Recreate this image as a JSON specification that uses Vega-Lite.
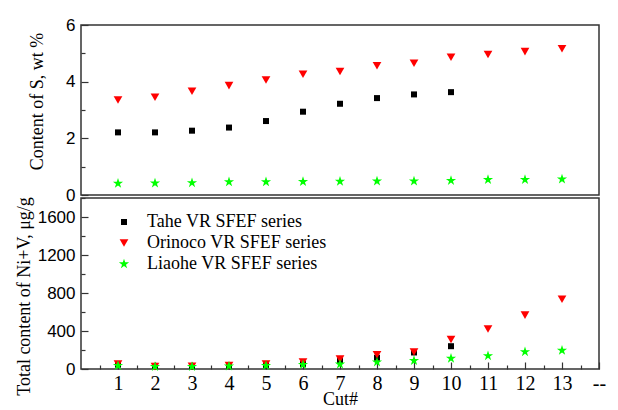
{
  "$schema": "https://vega.github.io/schema/vega-lite/v6.json",
  "padding": {"left": 14, "top": 15, "right": 5, "bottom": 0},
  "background": "white",
  "config": {
    "view": {"stroke": "#333333", "strokeWidth": 1.5},
    "axis": {"grid": false, "domain": false, "tickColor": "#333333", "tickWidth": 1.2, "labelColor": "black", "titleColor": "black", "titleFontWeight": "normal", "titleFont": "Liberation Serif", "titleFontSize": 18},
    "legend": {"labelFont": "Liberation Serif", "labelFontSize": 18, "labelColor": "black", "labelLimit": 0}
  },
  "datasets": {
    "d": [
      {"cut": 1, "series": "Tahe VR SFEF series", "s": 2.21, "nv": 45},
      {"cut": 2, "series": "Tahe VR SFEF series", "s": 2.21, "nv": 32},
      {"cut": 3, "series": "Tahe VR SFEF series", "s": 2.27, "nv": 28},
      {"cut": 4, "series": "Tahe VR SFEF series", "s": 2.38, "nv": 30},
      {"cut": 5, "series": "Tahe VR SFEF series", "s": 2.61, "nv": 38},
      {"cut": 6, "series": "Tahe VR SFEF series", "s": 2.94, "nv": 52},
      {"cut": 7, "series": "Tahe VR SFEF series", "s": 3.22, "nv": 87},
      {"cut": 8, "series": "Tahe VR SFEF series", "s": 3.42, "nv": 118},
      {"cut": 9, "series": "Tahe VR SFEF series", "s": 3.55, "nv": 174},
      {"cut": 10, "series": "Tahe VR SFEF series", "s": 3.63, "nv": 240},
      {"cut": 1, "series": "Orinoco VR SFEF series", "s": 3.35, "nv": 52},
      {"cut": 2, "series": "Orinoco VR SFEF series", "s": 3.45, "nv": 25},
      {"cut": 3, "series": "Orinoco VR SFEF series", "s": 3.66, "nv": 30},
      {"cut": 4, "series": "Orinoco VR SFEF series", "s": 3.86, "nv": 38},
      {"cut": 5, "series": "Orinoco VR SFEF series", "s": 4.06, "nv": 52},
      {"cut": 6, "series": "Orinoco VR SFEF series", "s": 4.26, "nv": 73},
      {"cut": 7, "series": "Orinoco VR SFEF series", "s": 4.36, "nv": 104},
      {"cut": 8, "series": "Orinoco VR SFEF series", "s": 4.56, "nv": 150},
      {"cut": 9, "series": "Orinoco VR SFEF series", "s": 4.65, "nv": 178},
      {"cut": 10, "series": "Orinoco VR SFEF series", "s": 4.86, "nv": 310},
      {"cut": 11, "series": "Orinoco VR SFEF series", "s": 4.96, "nv": 421},
      {"cut": 12, "series": "Orinoco VR SFEF series", "s": 5.06, "nv": 567},
      {"cut": 13, "series": "Orinoco VR SFEF series", "s": 5.16, "nv": 734},
      {"cut": 1, "series": "Liaohe VR SFEF series", "s": 0.41, "nv": 35},
      {"cut": 2, "series": "Liaohe VR SFEF series", "s": 0.42, "nv": 25},
      {"cut": 3, "series": "Liaohe VR SFEF series", "s": 0.43, "nv": 25},
      {"cut": 4, "series": "Liaohe VR SFEF series", "s": 0.46, "nv": 30},
      {"cut": 5, "series": "Liaohe VR SFEF series", "s": 0.46, "nv": 35},
      {"cut": 6, "series": "Liaohe VR SFEF series", "s": 0.47, "nv": 45},
      {"cut": 7, "series": "Liaohe VR SFEF series", "s": 0.48, "nv": 50},
      {"cut": 8, "series": "Liaohe VR SFEF series", "s": 0.49, "nv": 73},
      {"cut": 9, "series": "Liaohe VR SFEF series", "s": 0.49, "nv": 87},
      {"cut": 10, "series": "Liaohe VR SFEF series", "s": 0.51, "nv": 111},
      {"cut": 11, "series": "Liaohe VR SFEF series", "s": 0.54, "nv": 139},
      {"cut": 12, "series": "Liaohe VR SFEF series", "s": 0.54, "nv": 181},
      {"cut": 13, "series": "Liaohe VR SFEF series", "s": 0.56, "nv": 195}
    ]
  },
  "data": {"name": "d"},
  "spacing": 3,
  "bounds": "flush",
  "resolve": {"legend": {"color": "independent", "shape": "independent", "size": "independent"}},
  "vconcat": [
    {
      "width": 518,
      "height": 170,
      "resolve": {"axis": {"y": "independent"}},
      "encoding": {
        "x": {"field": "cut", "type": "quantitative", "scale": {"domain": [0, 14], "nice": false}, "axis": null},
        "color": {"field": "series", "type": "nominal", "scale": {"domain": ["Tahe VR SFEF series", "Orinoco VR SFEF series", "Liaohe VR SFEF series"], "range": ["#000000", "#ff0000", "#00ff00"]}, "legend": null},
        "shape": {"field": "series", "type": "nominal", "scale": {"domain": ["Tahe VR SFEF series", "Orinoco VR SFEF series", "Liaohe VR SFEF series"], "range": ["square", "triangle-down", "M0,-1L0.225,-0.309L0.951,-0.309L0.363,0.118L0.588,0.809L0,0.382L-0.588,0.809L-0.363,0.118L-0.951,-0.309L-0.225,-0.309Z"]}, "legend": null},
        "size": {"field": "series", "type": "nominal", "scale": {"domain": ["Tahe VR SFEF series", "Orinoco VR SFEF series", "Liaohe VR SFEF series"], "range": [36, 115, 150]}, "legend": null}
      },
      "layer": [
        {
          "mark": {"type": "point", "filled": true, "opacity": 1, "strokeWidth": 0},
          "encoding": {
            "y": {"field": "s", "type": "quantitative", "scale": {"domain": [0, 6], "nice": false},
              "axis": {"orient": "left", "title": "Content of S, wt %", "values": [0, 2, 4, 6], "tickSize": -7,
                "labelPadding": 13, "labelFont": "Liberation Sans", "labelFontSize": 17, "titlePadding": 19, "titleY": 76}}
          }
        },
        {
          "mark": {"type": "point", "filled": true, "opacity": 0},
          "encoding": {
            "y": {"field": "s", "type": "quantitative",
              "axis": {"orient": "left", "title": null, "values": [1, 3, 5], "tickSize": -4, "labels": false}}
          }
        }
      ]
    },
    {
      "width": 518,
      "height": 171,
      "resolve": {"axis": {"y": "independent", "x": "independent"}},
      "encoding": {
        "color": {"field": "series", "type": "nominal", "scale": {"domain": ["Tahe VR SFEF series", "Orinoco VR SFEF series", "Liaohe VR SFEF series"], "range": ["#000000", "#ff0000", "#00ff00"]},
          "legend": {"title": null, "orient": "none", "legendX": 34, "legendY": 15, "labelFont": "Liberation Serif", "labelFontSize": 18, "labelColor": "black", "labelOffset": 14, "labelLimit": 0, "rowPadding": 3, "padding": 0}},
        "shape": {"field": "series", "type": "nominal", "scale": {"domain": ["Tahe VR SFEF series", "Orinoco VR SFEF series", "Liaohe VR SFEF series"], "range": ["square", "triangle-down", "M0,-1L0.225,-0.309L0.951,-0.309L0.363,0.118L0.588,0.809L0,0.382L-0.588,0.809L-0.363,0.118L-0.951,-0.309L-0.225,-0.309Z"]},
          "legend": {"title": null, "orient": "none", "legendX": 34, "legendY": 15, "labelFont": "Liberation Serif", "labelFontSize": 18, "labelColor": "black", "labelOffset": 14, "labelLimit": 0, "rowPadding": 3, "padding": 0}},
        "size": {"field": "series", "type": "nominal", "scale": {"domain": ["Tahe VR SFEF series", "Orinoco VR SFEF series", "Liaohe VR SFEF series"], "range": [36, 115, 150]},
          "legend": {"title": null, "orient": "none", "legendX": 34, "legendY": 15, "labelFont": "Liberation Serif", "labelFontSize": 18, "labelColor": "black", "labelOffset": 14, "labelLimit": 0, "rowPadding": 3, "padding": 0}}
      },
      "layer": [
        {
          "mark": {"type": "point", "filled": true, "opacity": 1, "strokeWidth": 0},
          "encoding": {
            "x": {"field": "cut", "type": "quantitative", "scale": {"domain": [0, 14], "nice": false},
              "axis": {"orient": "bottom", "title": "Cut#", "values": [1, 2, 3, 4, 5, 6, 7, 8, 9, 10, 11, 12, 13, 14],
                "labelExpr": "datum.value === 14 ? '--' : datum.label",
                "tickSize": -7, "labelPadding": 11, "labelFont": "Liberation Serif", "labelFontSize": 20, "titlePadding": -3, "labelFlush": false, "labelOverlap": false}},
            "y": {"field": "nv", "type": "quantitative", "scale": {"domain": [0, 1800], "nice": false},
              "axis": {"orient": "left", "title": "Total content of Ni+V, μg/g", "values": [0, 400, 800, 1200, 1600], "tickSize": -7,
                "labelPadding": 13, "labelFont": "Liberation Sans", "labelFontSize": 17, "titlePadding": 4, "format": "d", "titleY": 98}}
          }
        },
        {
          "mark": {"type": "point", "filled": true, "opacity": 0},
          "encoding": {
            "x": {"field": "cut", "type": "quantitative",
              "axis": {"orient": "bottom", "title": null, "values": [0.5, 1.5, 2.5, 3.5, 4.5, 5.5, 6.5, 7.5, 8.5, 9.5, 10.5, 11.5, 12.5, 13.5], "tickSize": -4, "labels": false}},
            "y": {"field": "nv", "type": "quantitative",
              "axis": {"orient": "left", "title": null, "values": [200, 600, 1000, 1400, 1800], "tickSize": -4, "labels": false}}
          }
        }
      ]
    }
  ]
}
